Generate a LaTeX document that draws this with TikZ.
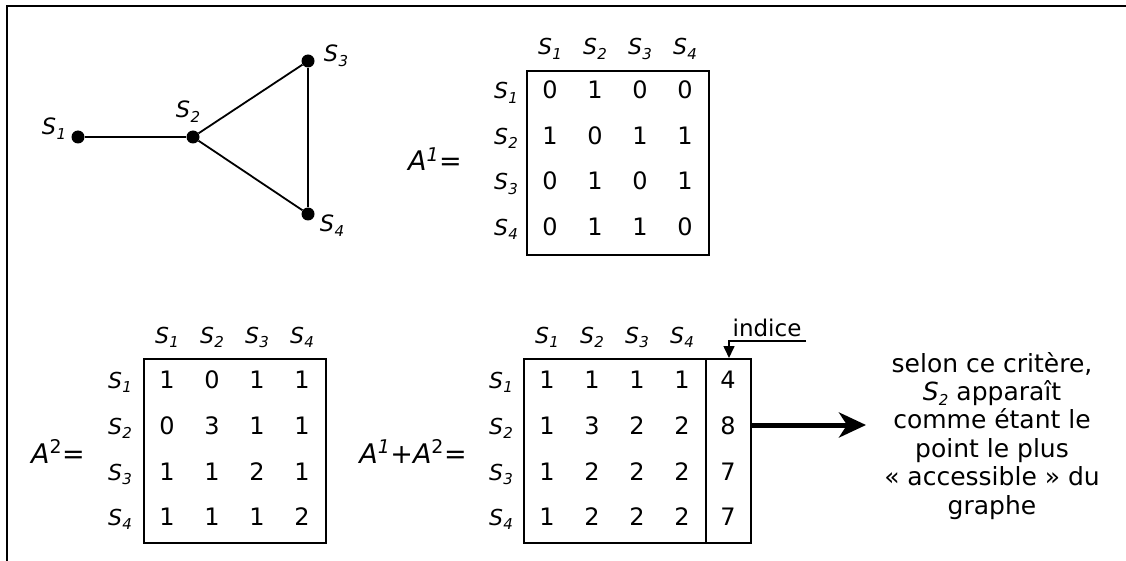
\documentclass[tikz,border=0pt]{standalone}
\usepackage{fontspec}
\setmainfont{DejaVu Sans}
\usetikzlibrary{arrows.meta}
\newcommand{\Sl}[1]{\textit{S}\kern0.3pt\raisebox{-0.2em}{\fontsize{15}{15}\selectfont\textit{#1}}}
\begin{document}
\begin{tikzpicture}[x=1pt,y=-1pt,
  lbl/.style={font=\fontsize{22}{26}\selectfont, inner sep=0, anchor=base},
  glbl/.style={font=\fontsize{22.5}{26}\selectfont, inner sep=0, anchor=base},
  num/.style={font=\fontsize{24}{28}\selectfont, inner sep=0, anchor=base},
  eqlbl/.style={font=\fontsize{27}{32}\selectfont, inner sep=0, anchor=base},
  dotnode/.style={circle, fill=black, inner sep=0, minimum size=13pt},
  edge/.style={line width=1.8pt},
  mbox/.style={draw, line width=2pt, inner sep=0, minimum width=182pt, minimum height=184pt},
  framelines/.style={line width=2.8pt},
  smallarrow/.style={line width=1.6pt, -{Triangle[length=12pt,width=11pt]}},
  bigarrow/.style={line width=5pt, -{Stealth[length=27pt,width=25pt,inset=8pt]}}
]
\useasboundingbox (0,0) rectangle (1126,561);
% frame (top and left)
\coordinate (fTR) at (1126,6);
\coordinate (fTL) at (7,6);
\coordinate (fBL) at (7,561);
\draw[framelines] (fTR) -- (fTL) -- (fBL);

% graph
\node[dotnode] (g1) at (78,137) {};
\node[dotnode] (g2) at (193,137) {};
\node[dotnode] (g3) at (308,61) {};
\node[dotnode] (g4) at (308,214) {};
\draw[edge] (g1) -- (g2);
\draw[edge] (g2) -- (g3);
\draw[edge] (g2) -- (g4);
\draw[edge] (g3) -- (g4);
\node[glbl] (gl1) at (54,135) {\Sl{1}};
\node[glbl] (gl2) at (188,118) {\Sl{2}};
\node[glbl] (gl3) at (336,62) {\Sl{3}};
\node[glbl] (gl4) at (332,232) {\Sl{4}};

% ---------- A1 ----------
\node[eqlbl] (eqA) at (435,171) {\textit{A}\textsuperscript{\textit{1}}=};
\node[mbox] (boxA) at (618,163) {};
\foreach \c/\x in {1/550,2/595,3/640,4/685}
  \node[lbl] (hA\c) at (\x,55) {\Sl{\c}};
\foreach \r/\y in {1/99,2/144.5,3/190,4/235.5}
  \node[lbl] (rA\r) at (506,\y) {\Sl{\r}};
\foreach \r/\y/\a/\b/\cc/\d in {1/99/0/1/0/0, 2/144.5/1/0/1/1, 3/190/0/1/0/1, 4/235.5/0/1/1/0}{
  \node[num] (mA\r1) at (550,\y) {\a};
  \node[num] (mA\r2) at (595,\y) {\b};
  \node[num] (mA\r3) at (640,\y) {\cc};
  \node[num] (mA\r4) at (685,\y) {\d};
}

% ---------- A2 ----------
\node[eqlbl] (eqB) at (58,463) {\textit{A}\textsuperscript{2}=};
\node[mbox] (boxB) at (235,451) {};
\foreach \c/\x in {1/167,2/212,3/257,4/302}
  \node[lbl] (hB\c) at (\x,343) {\Sl{\c}};
\foreach \r/\y in {1/388,2/434,3/480,4/525}
  \node[lbl] (rB\r) at (120,\y) {\Sl{\r}};
\foreach \r/\y/\a/\b/\cc/\d in {1/388/1/0/1/1, 2/434/0/3/1/1, 3/480/1/1/2/1, 4/525/1/1/1/2}{
  \node[num] (mB\r1) at (167,\y) {\a};
  \node[num] (mB\r2) at (212,\y) {\b};
  \node[num] (mB\r3) at (257,\y) {\cc};
  \node[num] (mB\r4) at (302,\y) {\d};
}

% ---------- A1+A2 ----------
\node[eqlbl] (eqC) at (413,463) {\textit{A}\textsuperscript{\textit{1}}+\textit{A}\textsuperscript{2}=};
\node[mbox, minimum width=227pt] (boxC) at (637.5,451) {};
\coordinate (divT) at (706,359);
\coordinate (divB) at (706,543);
\draw[line width=2pt] (divT) -- (divB);
\foreach \c/\x in {1/547,2/592,3/637,4/682}
  \node[lbl] (hC\c) at (\x,343) {\Sl{\c}};
\foreach \r/\y in {1/388,2/434,3/480,4/525}
  \node[lbl] (rC\r) at (501,\y) {\Sl{\r}};
\foreach \r/\y/\a/\b/\cc/\d/\e in {1/388/1/1/1/1/4, 2/434/1/3/2/2/8, 3/480/1/2/2/2/7, 4/525/1/2/2/2/7}{
  \node[num] (mC\r1) at (547,\y) {\a};
  \node[num] (mC\r2) at (592,\y) {\b};
  \node[num] (mC\r3) at (637,\y) {\cc};
  \node[num] (mC\r4) at (682,\y) {\d};
  \node[num] (mC\r5) at (728,\y) {\e};
}

% indice
\node[font=\fontsize{23}{27}\selectfont, inner sep=0, anchor=base] (ind) at (767,336) {indice};
\coordinate (indR) at (806,341);
\coordinate (indL) at (729,341);
\coordinate (indT) at (729,358);
\draw[smallarrow] (indR) -- (indL) -- (indT);

% result text and arrow
\node[font=\fontsize{25}{28.4}\selectfont, inner sep=0, align=center, anchor=north] (txt) at (992,352)
  {selon ce critère,\\ \Sl{2} apparaît\\ comme étant le\\ point le plus\\ « accessible » du\\ graphe};
\coordinate (arrS) at (751,425);
\coordinate (arrE) at (866,425);
\draw[bigarrow] (arrS) -- (arrE);
\end{tikzpicture}
\end{document}
